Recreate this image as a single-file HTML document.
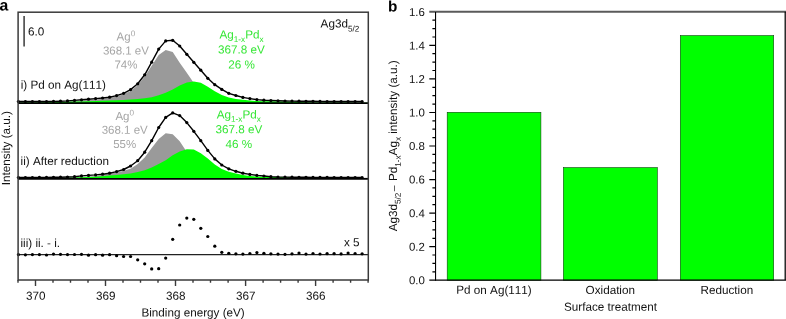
<!DOCTYPE html>
<html><head><meta charset="utf-8"><title>Figure</title>
<style>
html,body{margin:0;padding:0;background:#fff;}
body{width:786px;height:319px;position:relative;overflow:hidden;font-family:"Liberation Sans",sans-serif;}
svg text{font-family:"Liberation Sans",sans-serif;text-rendering:geometricPrecision;font-kerning:none;}
</style></head><body>
<svg width="786" height="319" viewBox="0 0 786 319" style="position:absolute;left:0;top:0;will-change:transform">
<rect width="786" height="319" fill="#fff"/>
<polygon fill="#9a9a9a" points="18.2,103.2 18.2,102.6 18.4,102.6 25.4,102.5 32.4,102.4 39.4,102.3 46.5,102.3 53.5,102.2 60.5,102.1 67.5,101.5 74.5,101.0 81.5,100.4 88.5,99.9 95.6,99.4 102.6,98.8 109.6,98.0 116.6,96.6 123.6,94.3 130.6,91.0 137.7,85.3 144.7,76.5 151.7,65.8 158.7,54.9 165.7,49.9 172.7,52.1 179.7,62.7 186.8,72.8 193.8,83.0 200.8,92.0 207.8,98.0 214.8,101.0 221.8,102.0 228.8,103.0 235.9,103.0 242.9,103.0 249.9,103.0 256.9,103.0 263.9,103.0 270.9,103.0 278.0,103.0 285.0,103.0 292.0,103.0 299.0,103.0 306.0,103.0 313.0,103.0 320.0,103.0 327.1,103.0 334.1,103.0 341.1,103.0 348.1,103.0 355.1,103.0 362.1,103.0 368.2,103.0 368.2,103.2"/>
<polygon fill="#00ff00" points="18.2,103.2 18.2,102.7 18.4,102.7 25.4,102.6 32.4,102.6 39.4,102.5 46.5,102.3 53.5,102.2 60.5,102.0 67.5,101.8 74.5,101.6 81.5,101.4 88.5,101.2 95.6,101.0 102.6,100.7 109.6,100.5 116.6,100.2 123.6,99.9 130.6,99.6 137.7,99.1 144.7,98.3 151.7,97.2 158.7,95.3 165.7,92.8 172.7,89.4 179.7,85.6 186.8,82.6 193.8,81.5 200.8,82.8 207.8,86.8 214.8,91.2 221.8,95.0 228.8,97.4 235.9,99.0 242.9,99.8 249.9,100.5 256.9,101.0 263.9,101.2 270.9,101.3 278.0,101.4 285.0,101.6 292.0,101.8 299.0,102.0 306.0,102.2 313.0,102.5 320.0,102.5 327.1,102.6 334.1,102.6 341.1,102.6 348.1,102.6 355.1,102.7 362.1,102.7 368.2,102.7 368.2,103.2"/>
<polygon fill="#9a9a9a" points="18.2,179.0 18.2,178.1 18.4,178.1 25.4,178.0 32.4,177.9 39.4,177.8 46.5,177.7 53.5,177.6 60.5,177.5 67.5,177.4 74.5,177.3 81.5,177.0 88.5,176.6 95.6,176.3 102.6,174.7 109.6,173.8 116.6,172.4 123.6,170.8 130.6,168.8 137.7,164.0 144.7,157.5 151.7,148.0 158.7,139.0 165.7,133.3 172.7,134.3 179.7,141.2 186.8,152.0 193.8,163.0 200.8,172.0 207.8,176.3 214.8,177.8 221.8,177.8 228.8,177.8 235.9,177.8 242.9,177.8 249.9,177.8 256.9,177.8 263.9,177.8 270.9,177.8 278.0,177.8 285.0,177.8 292.0,177.8 299.0,177.8 306.0,177.8 313.0,177.8 320.0,177.8 327.1,177.8 334.1,177.8 341.1,177.8 348.1,177.8 355.1,177.8 362.1,177.8 368.2,177.8 368.2,179.0"/>
<polygon fill="#00ff00" points="18.2,179.0 18.2,178.3 18.4,178.3 25.4,178.2 32.4,178.2 39.4,178.1 46.5,178.0 53.5,178.0 60.5,177.9 67.5,177.8 74.5,177.6 81.5,177.3 88.5,177.1 95.6,176.7 102.6,176.3 109.6,175.4 116.6,175.0 123.6,174.3 130.6,173.4 137.7,172.0 144.7,170.2 151.7,167.5 158.7,164.1 165.7,160.3 172.7,155.3 179.7,151.5 186.8,149.2 193.8,149.4 200.8,153.2 207.8,158.4 214.8,164.4 221.8,169.0 228.8,171.8 235.9,173.6 242.9,175.1 249.9,176.0 256.9,176.6 263.9,176.9 270.9,177.0 278.0,177.1 285.0,177.3 292.0,177.5 299.0,177.7 306.0,177.8 313.0,177.8 320.0,177.9 327.1,177.9 334.1,177.9 341.1,177.9 348.1,177.9 355.1,178.0 362.1,178.0 368.2,178.0 368.2,179.0"/>
<line x1="18.1" x2="368.3" y1="103.10" y2="103.10" stroke="#000" stroke-width="1.7"/>
<line x1="18.1" x2="368.3" y1="178.95" y2="178.95" stroke="#000" stroke-width="1.7"/>
<line x1="18.1" x2="368.3" y1="254.6" y2="254.6" stroke="#222" stroke-width="1.4"/>
<polyline fill="none" stroke="#000" stroke-width="1.4" stroke-linejoin="round" points="18.4,101.5 25.4,101.5 32.4,101.5 39.4,101.5 46.5,101.5 53.5,101.4 60.5,101.2 67.5,100.9 74.5,100.4 81.5,99.8 88.5,99.2 95.6,98.6 102.6,98.0 109.6,97.2 116.6,95.6 123.6,93.3 130.6,89.6 137.7,83.8 144.7,74.8 151.7,62.2 158.7,49.1 165.7,40.9 172.7,40.3 179.7,46.0 186.8,54.3 193.8,62.3 200.8,70.2 207.8,78.3 214.8,84.7 221.8,89.4 228.8,93.3 235.9,95.5 242.9,97.4 249.9,98.6 256.9,99.6 263.9,100.2 270.9,100.5 278.0,100.8 285.0,101.0 292.0,101.1 299.0,101.2 306.0,101.3 313.0,101.3 320.0,101.4 327.1,101.5 334.1,101.5 341.1,101.5 348.1,101.5 355.1,101.5 362.1,101.5"/>
<polyline fill="none" stroke="#000" stroke-width="1.4" stroke-linejoin="round" points="18.4,177.5 25.4,177.5 32.4,177.5 39.4,177.4 46.5,177.4 53.5,177.3 60.5,177.2 67.5,177.0 74.5,176.7 81.5,175.9 88.5,175.4 95.6,174.9 102.6,174.2 109.6,173.2 116.6,171.6 123.6,169.5 130.6,166.0 137.7,160.7 144.7,152.2 151.7,140.7 158.7,127.5 165.7,117.4 172.7,112.9 179.7,115.6 186.8,122.6 193.8,131.3 200.8,140.7 207.8,150.4 214.8,158.9 221.8,165.0 228.8,168.8 235.9,171.3 242.9,173.2 249.9,174.4 256.9,175.4 263.9,176.0 270.9,176.7 278.0,177.0 285.0,177.1 292.0,177.2 299.0,177.3 306.0,177.3 313.0,177.4 320.0,177.4 327.1,177.4 334.1,177.5 341.1,177.5 348.1,177.5 355.1,177.5 362.1,177.5"/>
<g fill="#000"><circle cx="18.4" cy="101.5" r="1.60"/><circle cx="25.4" cy="101.5" r="1.60"/><circle cx="32.4" cy="101.5" r="1.60"/><circle cx="39.4" cy="101.5" r="1.60"/><circle cx="46.5" cy="101.5" r="1.60"/><circle cx="53.5" cy="101.4" r="1.60"/><circle cx="60.5" cy="101.2" r="1.60"/><circle cx="67.5" cy="100.9" r="1.60"/><circle cx="74.5" cy="100.4" r="1.60"/><circle cx="81.5" cy="99.8" r="1.60"/><circle cx="88.5" cy="99.2" r="1.60"/><circle cx="95.6" cy="98.6" r="1.60"/><circle cx="102.6" cy="98.0" r="1.60"/><circle cx="109.6" cy="97.2" r="1.60"/><circle cx="116.6" cy="95.6" r="1.60"/><circle cx="123.6" cy="93.3" r="1.60"/><circle cx="130.6" cy="89.6" r="1.60"/><circle cx="137.7" cy="83.8" r="1.60"/><circle cx="144.7" cy="74.8" r="1.60"/><circle cx="151.7" cy="62.2" r="1.60"/><circle cx="158.7" cy="49.1" r="1.60"/><circle cx="165.7" cy="40.9" r="1.60"/><circle cx="172.7" cy="40.3" r="1.60"/><circle cx="179.7" cy="46.0" r="1.60"/><circle cx="186.8" cy="54.3" r="1.60"/><circle cx="193.8" cy="62.3" r="1.60"/><circle cx="200.8" cy="70.2" r="1.60"/><circle cx="207.8" cy="78.3" r="1.60"/><circle cx="214.8" cy="84.7" r="1.60"/><circle cx="221.8" cy="89.4" r="1.60"/><circle cx="228.8" cy="93.3" r="1.60"/><circle cx="235.9" cy="95.5" r="1.60"/><circle cx="242.9" cy="97.4" r="1.60"/><circle cx="249.9" cy="98.6" r="1.60"/><circle cx="256.9" cy="99.6" r="1.60"/><circle cx="263.9" cy="100.2" r="1.60"/><circle cx="270.9" cy="100.5" r="1.60"/><circle cx="278.0" cy="100.8" r="1.60"/><circle cx="285.0" cy="101.0" r="1.60"/><circle cx="292.0" cy="101.1" r="1.60"/><circle cx="299.0" cy="101.2" r="1.60"/><circle cx="306.0" cy="101.3" r="1.60"/><circle cx="313.0" cy="101.3" r="1.60"/><circle cx="320.0" cy="101.4" r="1.60"/><circle cx="327.1" cy="101.5" r="1.60"/><circle cx="334.1" cy="101.5" r="1.60"/><circle cx="341.1" cy="101.5" r="1.60"/><circle cx="348.1" cy="101.5" r="1.60"/><circle cx="355.1" cy="101.5" r="1.60"/><circle cx="362.1" cy="101.5" r="1.60"/><circle cx="18.4" cy="177.5" r="1.60"/><circle cx="25.4" cy="177.5" r="1.60"/><circle cx="32.4" cy="177.5" r="1.60"/><circle cx="39.4" cy="177.4" r="1.60"/><circle cx="46.5" cy="177.4" r="1.60"/><circle cx="53.5" cy="177.3" r="1.60"/><circle cx="60.5" cy="177.2" r="1.60"/><circle cx="67.5" cy="177.0" r="1.60"/><circle cx="74.5" cy="176.7" r="1.60"/><circle cx="81.5" cy="175.9" r="1.60"/><circle cx="88.5" cy="175.4" r="1.60"/><circle cx="95.6" cy="174.9" r="1.60"/><circle cx="102.6" cy="174.2" r="1.60"/><circle cx="109.6" cy="173.2" r="1.60"/><circle cx="116.6" cy="171.6" r="1.60"/><circle cx="123.6" cy="169.5" r="1.60"/><circle cx="130.6" cy="166.0" r="1.60"/><circle cx="137.7" cy="160.7" r="1.60"/><circle cx="144.7" cy="152.2" r="1.60"/><circle cx="151.7" cy="140.7" r="1.60"/><circle cx="158.7" cy="127.5" r="1.60"/><circle cx="165.7" cy="117.4" r="1.60"/><circle cx="172.7" cy="112.9" r="1.60"/><circle cx="179.7" cy="115.6" r="1.60"/><circle cx="186.8" cy="122.6" r="1.60"/><circle cx="193.8" cy="131.3" r="1.60"/><circle cx="200.8" cy="140.7" r="1.60"/><circle cx="207.8" cy="150.4" r="1.60"/><circle cx="214.8" cy="158.9" r="1.60"/><circle cx="221.8" cy="165.0" r="1.60"/><circle cx="228.8" cy="168.8" r="1.60"/><circle cx="235.9" cy="171.3" r="1.60"/><circle cx="242.9" cy="173.2" r="1.60"/><circle cx="249.9" cy="174.4" r="1.60"/><circle cx="256.9" cy="175.4" r="1.60"/><circle cx="263.9" cy="176.0" r="1.60"/><circle cx="270.9" cy="176.7" r="1.60"/><circle cx="278.0" cy="177.0" r="1.60"/><circle cx="285.0" cy="177.1" r="1.60"/><circle cx="292.0" cy="177.2" r="1.60"/><circle cx="299.0" cy="177.3" r="1.60"/><circle cx="306.0" cy="177.3" r="1.60"/><circle cx="313.0" cy="177.4" r="1.60"/><circle cx="320.0" cy="177.4" r="1.60"/><circle cx="327.1" cy="177.4" r="1.60"/><circle cx="334.1" cy="177.5" r="1.60"/><circle cx="341.1" cy="177.5" r="1.60"/><circle cx="348.1" cy="177.5" r="1.60"/><circle cx="355.1" cy="177.5" r="1.60"/><circle cx="362.1" cy="177.5" r="1.60"/><circle cx="18.4" cy="254.6" r="1.62"/><circle cx="25.4" cy="254.8" r="1.62"/><circle cx="32.4" cy="254.6" r="1.62"/><circle cx="39.4" cy="254.6" r="1.62"/><circle cx="46.5" cy="255.0" r="1.62"/><circle cx="53.5" cy="254.1" r="1.62"/><circle cx="60.5" cy="254.3" r="1.62"/><circle cx="67.5" cy="254.6" r="1.62"/><circle cx="74.5" cy="254.5" r="1.62"/><circle cx="81.5" cy="254.3" r="1.62"/><circle cx="88.5" cy="255.2" r="1.62"/><circle cx="95.6" cy="254.7" r="1.62"/><circle cx="102.6" cy="255.2" r="1.62"/><circle cx="109.6" cy="254.7" r="1.62"/><circle cx="116.6" cy="255.7" r="1.62"/><circle cx="123.6" cy="256.5" r="1.62"/><circle cx="130.6" cy="256.5" r="1.62"/><circle cx="137.7" cy="259.8" r="1.62"/><circle cx="144.7" cy="263.8" r="1.62"/><circle cx="151.7" cy="268.9" r="1.62"/><circle cx="158.7" cy="268.7" r="1.62"/><circle cx="165.7" cy="258.1" r="1.62"/><circle cx="172.7" cy="239.3" r="1.62"/><circle cx="179.7" cy="225.0" r="1.62"/><circle cx="186.8" cy="218.1" r="1.62"/><circle cx="193.8" cy="219.3" r="1.62"/><circle cx="200.8" cy="228.3" r="1.62"/><circle cx="207.8" cy="236.5" r="1.62"/><circle cx="214.8" cy="246.2" r="1.62"/><circle cx="221.8" cy="252.3" r="1.62"/><circle cx="228.8" cy="253.3" r="1.62"/><circle cx="235.9" cy="253.8" r="1.62"/><circle cx="242.9" cy="254.1" r="1.62"/><circle cx="249.9" cy="253.5" r="1.62"/><circle cx="256.9" cy="252.6" r="1.62"/><circle cx="263.9" cy="253.3" r="1.62"/><circle cx="270.9" cy="253.8" r="1.62"/><circle cx="278.0" cy="254.1" r="1.62"/><circle cx="285.0" cy="254.3" r="1.62"/><circle cx="292.0" cy="253.8" r="1.62"/><circle cx="299.0" cy="253.1" r="1.62"/><circle cx="306.0" cy="254.1" r="1.62"/><circle cx="313.0" cy="253.5" r="1.62"/><circle cx="320.0" cy="254.0" r="1.62"/><circle cx="327.1" cy="253.6" r="1.62"/><circle cx="334.1" cy="253.6" r="1.62"/><circle cx="341.1" cy="253.9" r="1.62"/><circle cx="348.1" cy="253.1" r="1.62"/><circle cx="355.1" cy="253.5" r="1.62"/><circle cx="362.1" cy="253.8" r="1.62"/></g>
<rect x="18.1" y="12.2" width="350.2" height="267.8" fill="none" stroke="#3a3a3a" stroke-width="1.5"/>
<path d="M18.0 280.0V282.8M35.5 280.0V285.9M53.0 280.0V282.8M70.5 280.0V282.8M88.0 280.0V282.8M105.5 280.0V285.9M123.0 280.0V282.8M140.5 280.0V282.8M158.0 280.0V282.8M175.5 280.0V285.9M193.0 280.0V282.8M210.5 280.0V282.8M228.1 280.0V282.8M245.6 280.0V285.9M263.1 280.0V282.8M280.6 280.0V282.8M298.1 280.0V282.8M315.6 280.0V285.9M333.1 280.0V282.8M350.6 280.0V282.8M368.1 280.0V282.8" stroke="#3a3a3a" stroke-width="1.4" fill="none"/>
<line x1="24.1" x2="24.1" y1="15.9" y2="46.6" stroke="#3a3a3a" stroke-width="1.5"/>
<rect x="447.2" y="112.3" width="93.7" height="167.9" fill="#00ff00" stroke="#0b420b" stroke-width="0.6"/>
<rect x="563.4" y="167.6" width="93.9" height="112.6" fill="#00ff00" stroke="#0b420b" stroke-width="0.6"/>
<rect x="680.3" y="35.6" width="93.4" height="244.6" fill="#00ff00" stroke="#0b420b" stroke-width="0.6"/>
<line x1="429.3" x2="786.0" y1="11.8" y2="11.8" stroke="#5a5a5a" stroke-width="1.9"/>
<path d="M435.55 12.0V280.8" stroke="#000" stroke-width="1.1" fill="none"/>
<path d="M785.2 11.8V280.8M429.3 280.2H786.0" stroke="#000" stroke-width="1.25" fill="none"/>
<path d="M435.7 271.8H432.4M435.7 263.4H432.4M435.7 255.0H432.4M435.7 246.6H429.3M435.7 238.3H432.4M435.7 229.9H432.4M435.7 221.5H432.4M435.7 213.1H429.3M435.7 204.7H432.4M435.7 196.3H432.4M435.7 187.9H432.4M435.7 179.6H429.3M435.7 171.2H432.4M435.7 162.8H432.4M435.7 154.4H432.4M435.7 146.0H429.3M435.7 137.6H432.4M435.7 129.2H432.4M435.7 120.8H432.4M435.7 112.5H429.3M435.7 104.1H432.4M435.7 95.7H432.4M435.7 87.3H432.4M435.7 78.9H429.3M435.7 70.5H432.4M435.7 62.1H432.4M435.7 53.7H432.4M435.7 45.3H429.3M435.7 37.0H432.4M435.7 28.6H432.4M435.7 20.2H432.4" stroke="#000" stroke-width="1.2" fill="none"/>
<g font-family="'Liberation Sans', sans-serif">
<text x="-0.5" y="10.50" transform="rotate(0.03 -0.5 10.50)" font-size="15.80" text-anchor="start" fill="#000" font-weight="bold">a</text>
<text x="388.1" y="11.50" transform="rotate(0.03 388.1 11.50)" font-size="15.30" text-anchor="start" fill="#000" font-weight="bold">b</text>
<text x="35.7" y="299.85" transform="rotate(0.03 35.7 299.85)" font-size="11.70" text-anchor="middle" fill="#111" >370</text>
<text x="105.7" y="299.85" transform="rotate(0.03 105.7 299.85)" font-size="11.70" text-anchor="middle" fill="#111" >369</text>
<text x="175.7" y="299.85" transform="rotate(0.03 175.7 299.85)" font-size="11.70" text-anchor="middle" fill="#111" >368</text>
<text x="245.8" y="299.85" transform="rotate(0.03 245.8 299.85)" font-size="11.70" text-anchor="middle" fill="#111" >367</text>
<text x="315.8" y="299.85" transform="rotate(0.03 315.8 299.85)" font-size="11.70" text-anchor="middle" fill="#111" >366</text>
<text x="193.1" y="316.50" transform="rotate(0.03 193.1 316.50)" font-size="11.70" text-anchor="middle" fill="#111" >Binding energy (eV)</text>
<text transform="translate(9.9,148.1) rotate(-89.97)" font-size="11.70" text-anchor="middle" fill="#111">Intensity (a.u.)</text>
<text x="28.1" y="35.60" transform="rotate(0.03 28.1 35.60)" font-size="11.70" text-anchor="start" fill="#111" >6.0</text>
<text x="20.7" y="88.65" transform="rotate(0.03 20.7 88.65)" font-size="11.70" text-anchor="start" fill="#111" >i) Pd on Ag(111)</text>
<text x="20.6" y="164.95" transform="rotate(0.03 20.6 164.95)" font-size="11.70" text-anchor="start" fill="#111" >ii) After reduction</text>
<text x="20.5" y="246.90" transform="rotate(0.03 20.5 246.90)" font-size="11.70" text-anchor="start" fill="#111" >iii) ii. - i.</text>
<text x="344.0" y="246.30" transform="rotate(0.03 344.0 246.30)" font-size="11.70" text-anchor="start" fill="#111" >x 5</text>
<text x="320.6" y="27.6" transform="rotate(0.03 320.6 27.6)" font-size="11.70" fill="#111">Ag3d<tspan font-size="8.2" dy="3.9">5/2</tspan></text>
<text x="125.9" y="40.60" transform="rotate(0.03 125.9 40.60)" font-size="11.50" text-anchor="middle" fill="#a6a6a6">Ag<tspan font-size="8.2" dy="-4.4">0</tspan></text><text x="125.9" y="54.50" transform="rotate(0.03 125.9 54.50)" font-size="11.50" text-anchor="middle" fill="#a6a6a6">368.1 eV</text><text x="125.9" y="68.60" transform="rotate(0.03 125.9 68.60)" font-size="11.50" text-anchor="middle" fill="#a6a6a6">74%</text>
<text x="241.5" y="38.60" transform="rotate(0.03 241.5 38.60)" font-size="11.70" text-anchor="middle" fill="#36e636">Ag<tspan font-size="8.2" dy="3.3">1-x</tspan><tspan font-size="11.70" dy="-3.3">Pd</tspan><tspan font-size="8.2" dy="3.3">x</tspan></text><text x="241.5" y="53.60" transform="rotate(0.03 241.5 53.60)" font-size="11.70" text-anchor="middle" fill="#36e636">367.8 eV</text><text x="241.5" y="68.50" transform="rotate(0.03 241.5 68.50)" font-size="11.70" text-anchor="middle" fill="#36e636">26 %</text>
<text x="124.7" y="120.00" transform="rotate(0.03 124.7 120.00)" font-size="11.50" text-anchor="middle" fill="#a6a6a6">Ag<tspan font-size="8.2" dy="-4.4">0</tspan></text><text x="124.7" y="133.80" transform="rotate(0.03 124.7 133.80)" font-size="11.50" text-anchor="middle" fill="#a6a6a6">368.1 eV</text><text x="124.7" y="147.90" transform="rotate(0.03 124.7 147.90)" font-size="11.50" text-anchor="middle" fill="#a6a6a6">55%</text>
<text x="238.8" y="118.40" transform="rotate(0.03 238.8 118.40)" font-size="11.70" text-anchor="middle" fill="#36e636">Ag<tspan font-size="8.2" dy="3.3">1-x</tspan><tspan font-size="11.70" dy="-3.3">Pd</tspan><tspan font-size="8.2" dy="3.3">x</tspan></text><text x="238.8" y="133.20" transform="rotate(0.03 238.8 133.20)" font-size="11.70" text-anchor="middle" fill="#36e636">367.8 eV</text><text x="238.8" y="148.00" transform="rotate(0.03 238.8 148.00)" font-size="11.70" text-anchor="middle" fill="#36e636">46 %</text>
<text x="424.9" y="284.25" transform="rotate(0.03 424.9 284.25)" font-size="11.45" text-anchor="end" fill="#111" >0.0</text>
<text x="424.9" y="250.70" transform="rotate(0.03 424.9 250.70)" font-size="11.45" text-anchor="end" fill="#111" >0.2</text>
<text x="424.9" y="217.15" transform="rotate(0.03 424.9 217.15)" font-size="11.45" text-anchor="end" fill="#111" >0.4</text>
<text x="424.9" y="183.60" transform="rotate(0.03 424.9 183.60)" font-size="11.45" text-anchor="end" fill="#111" >0.6</text>
<text x="424.9" y="150.05" transform="rotate(0.03 424.9 150.05)" font-size="11.45" text-anchor="end" fill="#111" >0.8</text>
<text x="424.9" y="116.50" transform="rotate(0.03 424.9 116.50)" font-size="11.45" text-anchor="end" fill="#111" >1.0</text>
<text x="424.9" y="82.95" transform="rotate(0.03 424.9 82.95)" font-size="11.45" text-anchor="end" fill="#111" >1.2</text>
<text x="424.9" y="49.40" transform="rotate(0.03 424.9 49.40)" font-size="11.45" text-anchor="end" fill="#111" >1.4</text>
<text x="424.9" y="16.10" transform="rotate(0.03 424.9 16.10)" font-size="11.45" text-anchor="end" fill="#111" >1.6</text>
<text x="494.0" y="293.90" transform="rotate(0.03 494.0 293.90)" font-size="11.70" text-anchor="middle" fill="#111" >Pd on Ag(111)</text>
<text x="610.3" y="293.90" transform="rotate(0.03 610.3 293.90)" font-size="11.70" text-anchor="middle" fill="#111" >Oxidation</text>
<text x="726.9" y="293.90" transform="rotate(0.03 726.9 293.90)" font-size="11.70" text-anchor="middle" fill="#111" >Reduction</text>
<text x="610.5" y="310.70" transform="rotate(0.03 610.5 310.70)" font-size="11.70" text-anchor="middle" fill="#111" >Surface treatment</text>
<text transform="translate(397.0,231.3) rotate(-89.97)" font-size="11.70" fill="#111">Ag3d<tspan font-size="8.2" dy="3.6">5/2</tspan><tspan dy="-3.6" dx="1.3" font-size="10.2">–</tspan><tspan dx="4.6">Pd</tspan><tspan font-size="8.2" dy="3.6">1-x</tspan><tspan dy="-3.6">Ag</tspan><tspan font-size="8.2" dy="3.6">x</tspan><tspan dy="-3.6"> intensity (a.u.)</tspan></text>
</g>
</svg>
</body></html>
